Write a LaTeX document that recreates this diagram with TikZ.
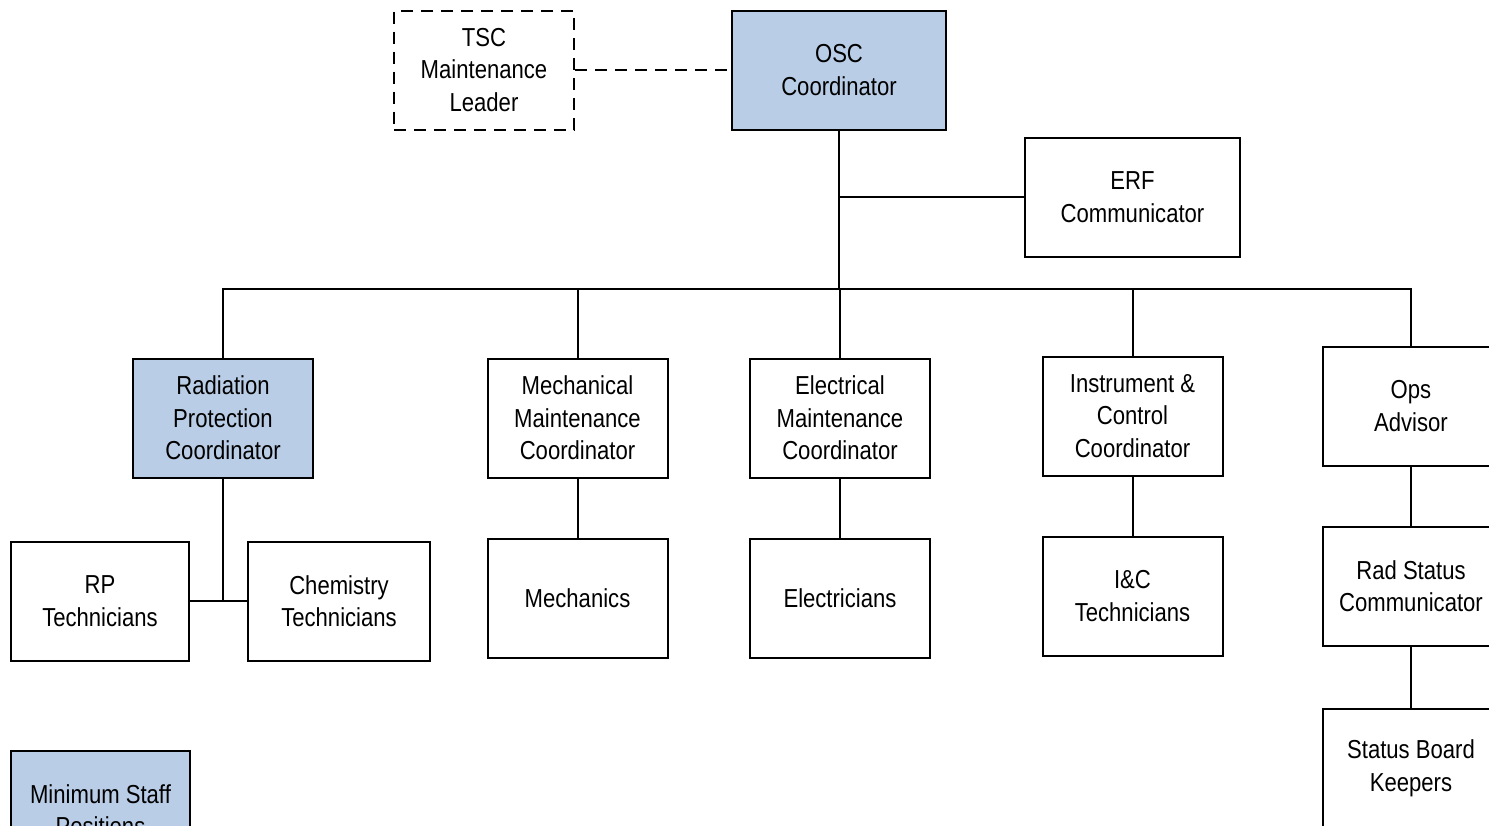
\documentclass[tikz,border=0pt]{standalone}
\usepackage{fontspec}
\setmainfont{Liberation Sans}[FakeStretch=0.85]
\usepackage{xcolor}
\usepackage{tikz}
\definecolor{staffblue}{RGB}{185,205,230}

\begin{document}
\begin{tikzpicture}[x=0.5pt,y=-0.5pt,line width=1pt,
  box node/.style={rectangle,draw,fill=white,minimum width=90pt,minimum height=59.5pt,inner sep=0pt,align=center,font=\fontsize{13}{16.3}\selectfont},
  staff node/.style={box node,fill=staffblue},
  tsc node/.style={box node,dashed,dash pattern=on 6pt off 4pt},
  link/.style={draw,line width=1pt}]
  \useasboundingbox (0,0) rectangle (1489,825);
  \clip (0,0) rectangle (1489,825);

  \node[tsc node]   (tsc)  at (484,70)   {TSC\\Maintenance\\Leader};
  \node[staff node, minimum width=107pt] (osc) at (839,70) {OSC\\Coordinator};
  \node[box node, minimum width=107.5pt] (erf) at (1132.5,197) {ERF\\Communicator};

  \node[staff node] (rpc)  at (223,418)  {Radiation\\Protection\\Coordinator};
  \node[box node]   (mmc)  at (577.5,418) {Mechanical\\Maintenance\\Coordinator};
  \node[box node]   (emc)  at (840,418)  {Electrical\\Maintenance\\Coordinator};
  \node[box node]   (icc)  at (1132.5,416) {Instrument \&\\Control\\Coordinator};
  \node[box node, minimum width=88pt] (ops) at (1411,406) {Ops\\Advisor};

  \node[box node, minimum width=89pt] (rpt) at (100,601) {RP\\Technicians};
  \node[box node, minimum width=91pt] (cht) at (339,601) {Chemistry\\Technicians};
  \node[box node]   (mech) at (577.5,598) {Mechanics};
  \node[box node]   (elec) at (840,598)  {Electricians};
  \node[box node]   (ict)  at (1132.5,596) {I\&C\\Technicians};
  \node[box node, minimum width=88pt] (rad) at (1411,586) {Rad Status\\Communicator};
  \node[box node, minimum width=88pt] (sbk) at (1411,768) {Status Board\\Keepers};

  \node[staff node, minimum width=89.5pt] (legend) at (100.5,810) {Minimum Staff\\Positions};

  \coordinate (bus) at (839,289);

  % reporting lines
  \draw[dashed,dash pattern=on 6pt off 4pt] (tsc.east) -- (osc.west);
  \draw (osc.south) -- (bus);
  \draw (erf.west) -- (erf.west -| osc.south);
  \draw (rpc.north) |- (bus) -| (ops.north);
  \draw (mmc.north) -- (mmc.north |- bus);
  \draw (emc.north) -- (emc.north |- bus);
  \draw (icc.north) -- (icc.north |- bus);

  \draw (rpc.south) -- (rpc.south |- rpt.east);
  \draw (rpt.east) -- (cht.west);
  \draw (mmc) -- (mech);
  \draw (emc) -- (elec);
  \draw (icc) -- (ict);
  \draw (ops) -- (rad);
  \draw (rad) -- (sbk);
\end{tikzpicture}
\end{document}
